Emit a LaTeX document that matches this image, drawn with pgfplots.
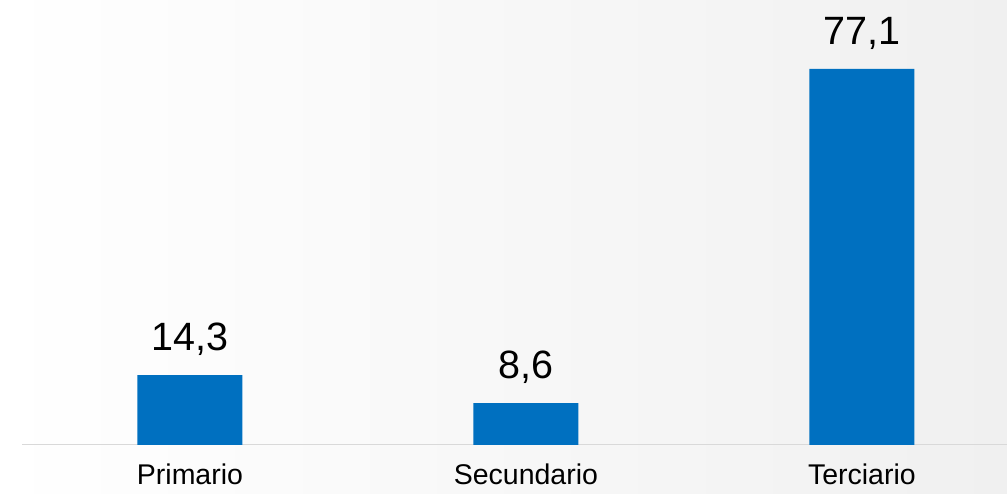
\documentclass[border=0pt]{standalone}
\usepackage{pgfplots}
\pgfplotsset{compat=1.18}
\usepackage{fontspec}
\setmainfont{Liberation Sans}
\definecolor{barblue}{HTML}{0070C0}
\definecolor{axisgray}{HTML}{D9D9D9}
\definecolor{bgright}{HTML}{F0F0F0}
\begin{document}
\begin{tikzpicture}
\shade[left color=white, right color=bgright] (-22pt,-49pt) rectangle (985pt,445pt);
\begin{axis}[
  scale only axis,
  width=985pt, height=445pt,
  xmin=-0.5, xmax=2.432,
  ymin=0, ymax=91.2,
  axis x line*=bottom,
  axis y line=none,
  x axis line style={draw=axisgray, line width=1pt, -},
  xtick=data,
  xticklabels={Primario,Secundario,Terciario},
  major tick length=0pt,
  xticklabel style={font=\fontsize{28.5}{32}\selectfont, yshift=-15pt},
  ybar, bar width=105pt,
  nodes near coords,
  every node near coord/.append style={font=\fontsize{39.5}{44}\selectfont, anchor=south, inner sep=0pt, yshift=19pt, text=black},
  /pgf/number format/.cd, use comma, fixed, fixed zerofill, precision=1, assume math mode=true,
]
\addplot[fill=barblue, draw=none] coordinates {(0,14.3) (1,8.6) (2,77.1)};
\end{axis}
\pgfresetboundingbox
\useasboundingbox (-22pt,-49pt) rectangle (985pt,445pt);
\end{tikzpicture}
\end{document}
